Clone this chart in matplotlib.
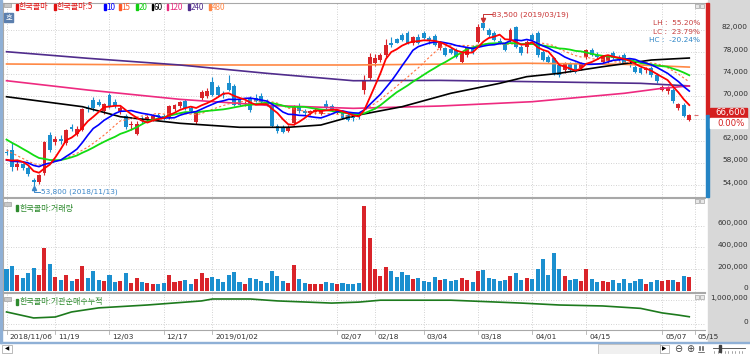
import numpy as np
import pandas as pd
import matplotlib
matplotlib.use("Agg")
import matplotlib.pyplot as plt
from matplotlib.patches import Rectangle
from matplotlib.transforms import ScaledTranslation
from matplotlib import font_manager

plt.rcParams['font.family'] = ['Noto Sans CJK KR', 'DejaVu Sans']

# trading days shown (KRX holidays removed)
holidays = ['2018-12-25', '2018-12-31', '2019-01-01', '2019-02-04', '2019-02-05',
            '2019-02-06', '2019-03-01', '2019-05-01', '2019-05-06']
dates = pd.bdate_range('2018-11-06', '2019-05-14', freq='C', holidays=holidays)

# daily prices, thousand won
opens = [60.0, 60.4, 57.3, 57.8, 57.0, 55.0, 54.6, 56.1, 63.0, 61.8,
         62.3, 61.6, 64.4, 63.3, 64.0, 68.0, 69.4, 69.0, 67.4, 70.2,
         69.0, 67.3, 66.4, 64.8, 63.3, 66.0, 65.7, 66.0, 66.6, 66.5,
         66.3, 67.8, 68.3, 69.2, 67.9, 65.3, 69.7, 70.0, 72.6, 71.7,
         70.5, 72.4, 71.8, 69.4, 68.6, 69.6, 69.8, 70.0, 69.0, 68.2,
         64.6, 64.5, 63.8, 65.2, 68.3, 67.3, 67.1, 67.2, 66.9, 68.6,
         68.2, 67.2, 67.0, 66.6, 66.4, 66.9, 71.2, 73.3, 76.0, 76.6,
         77.5, 79.6, 80.3, 81.1, 81.4, 79.6, 80.8, 81.4, 80.5, 81.0,
         78.7, 78.7, 78.6, 78.3, 76.3, 77.5, 78.7, 79.9, 83.2, 82.0,
         81.4, 80.0, 79.6, 80.2, 82.5, 79.0, 79.0, 81.1, 81.4, 78.0,
         77.2, 76.9, 75.6, 74.8, 75.9, 75.9, 75.1, 77.2, 78.4, 77.5,
         76.3, 76.4, 77.8, 77.0, 77.5, 76.0, 75.4, 75.1, 74.8, 75.2,
         73.9, 71.2, 70.9, 71.2, 67.9, 68.5, 65.8]
highs = [60.5, 61.8, 58.4, 58.0, 57.4, 55.3, 56.0, 62.0, 63.5, 62.8,
         63.0, 64.2, 65.0, 64.6, 68.0, 68.5, 69.9, 69.5, 68.8, 70.7,
         69.5, 68.3, 66.8, 65.5, 65.5, 66.5, 66.6, 66.8, 67.0, 66.9,
         68.5, 68.6, 69.2, 69.6, 68.3, 67.2, 71.2, 71.5, 73.5, 72.0,
         71.0, 73.8, 72.2, 69.8, 69.2, 70.0, 70.5, 70.6, 69.6, 68.6,
         65.0, 64.8, 64.8, 68.4, 68.8, 67.8, 67.6, 67.9, 67.7, 69.4,
         68.6, 67.8, 67.4, 67.0, 66.8, 67.2, 73.8, 77.8, 77.6, 77.8,
         80.3, 80.8, 80.6, 81.5, 81.8, 81.0, 81.2, 81.9, 81.0, 81.3,
         79.8, 79.0, 79.0, 78.8, 78.0, 79.2, 79.3, 83.0, 83.5, 82.4,
         81.8, 80.5, 79.8, 82.3, 82.8, 79.3, 80.2, 81.5, 81.8, 78.3,
         77.5, 77.2, 76.0, 76.2, 76.2, 76.3, 76.2, 78.6, 78.8, 78.0,
         77.4, 77.4, 78.2, 77.5, 77.8, 76.4, 75.7, 75.4, 75.3, 75.5,
         74.2, 72.0, 71.8, 71.5, 68.8, 68.8, 66.8]
lows = [59.4, 56.6, 56.8, 56.8, 55.6, 53.8, 54.2, 55.8, 60.0, 61.2,
        61.5, 61.2, 63.7, 62.8, 63.7, 67.2, 67.4, 68.2, 66.8, 68.0,
        68.0, 66.8, 64.2, 64.0, 63.0, 65.2, 65.3, 65.6, 65.8, 65.7,
        66.0, 67.4, 68.0, 67.6, 67.0, 65.0, 69.4, 69.8, 70.0, 70.0,
        69.8, 71.0, 68.3, 68.3, 68.2, 67.2, 69.0, 68.8, 68.2, 64.4,
        63.4, 63.4, 63.5, 64.9, 67.0, 66.7, 66.6, 66.9, 66.6, 67.7,
        67.3, 66.9, 66.0, 65.5, 65.6, 66.0, 70.4, 73.0, 75.5, 76.2,
        77.2, 79.0, 79.6, 80.0, 79.4, 79.3, 79.4, 80.3, 79.5, 79.2,
        78.4, 77.3, 77.6, 77.0, 76.0, 77.2, 77.7, 79.6, 82.0, 80.8,
        80.0, 79.4, 78.2, 79.8, 78.7, 77.5, 77.8, 80.0, 77.2, 76.4,
        76.0, 73.8, 73.6, 74.3, 74.5, 74.2, 74.8, 76.8, 77.3, 76.8,
        76.0, 76.1, 76.7, 76.4, 75.8, 75.3, 74.3, 74.0, 74.2, 73.6,
        72.4, 70.9, 70.5, 68.8, 67.6, 66.2, 65.5]
closes = [59.8, 57.3, 57.8, 57.0, 56.0, 54.5, 55.8, 61.8, 60.4, 62.4,
          62.0, 63.9, 64.1, 64.1, 67.8, 67.7, 67.9, 68.4, 68.6, 68.3,
          68.3, 68.0, 64.5, 65.0, 65.1, 65.5, 66.3, 66.4, 66.2, 66.0,
          68.2, 68.4, 69.0, 67.9, 67.3, 67.0, 70.8, 70.9, 70.3, 70.3,
          70.2, 71.2, 68.5, 68.5, 68.8, 67.5, 69.2, 69.0, 68.5, 64.6,
          63.7, 63.6, 64.4, 68.1, 67.3, 67.0, 67.4, 67.6, 67.5, 67.9,
          67.5, 67.5, 66.1, 65.8, 66.1, 66.4, 73.0, 77.2, 76.9, 77.4,
          79.3, 79.3, 79.7, 80.2, 79.6, 80.8, 79.6, 80.5, 80.0, 79.3,
          79.6, 77.5, 77.9, 77.2, 77.8, 79.0, 77.8, 82.6, 82.3, 81.1,
          80.2, 79.6, 78.4, 82.0, 79.0, 77.8, 79.9, 80.2, 77.5, 76.6,
          76.3, 74.2, 73.9, 75.9, 74.8, 74.5, 76.0, 78.3, 77.5, 77.2,
          77.2, 77.1, 76.9, 76.6, 76.0, 75.6, 74.5, 74.2, 75.0, 73.9,
          72.7, 71.7, 71.5, 69.1, 68.6, 66.4, 66.6]
# closes before the window, only used to start the short averages
pre_close = [69.0, 68.0, 68.5, 67.0, 66.5, 66.0, 65.0, 64.5, 63.0, 61.5,
             59.5, 58.5, 57.5, 58.0, 59.0, 58.0, 57.5, 58.5, 59.0]

# volume, thousand shares
volume = [200, 230, 150, 120, 160, 210, 150, 390, 250, 130,
          100, 150, 90, 110, 230, 120, 180, 100, 90, 150,
          80, 90, 160, 70, 120, 80, 70, 60, 60, 70,
          150, 80, 90, 100, 60, 110, 160, 120, 130, 110,
          80, 150, 170, 80, 60, 120, 110, 90, 70, 180,
          140, 90, 70, 240, 110, 70, 60, 60, 60, 80,
          70, 60, 70, 60, 60, 70, 780, 490, 200, 140,
          220, 180, 130, 170, 150, 110, 120, 90, 80, 130,
          100, 110, 90, 100, 120, 100, 80, 180, 190, 120,
          110, 90, 100, 140, 160, 100, 120, 110, 200, 290,
          150, 350, 200, 140, 100, 110, 90, 200, 110, 80,
          90, 80, 100, 70, 110, 70, 90, 110, 60, 80,
          100, 90, 100, 100, 80, 140, 130]

# long moving averages (day index, thousand won)
ma60_day = [0, 14, 21, 32, 43, 52, 58, 64, 73, 82, 91, 96, 102, 110, 119, 126]
ma60_val = [69.95, 68.15, 66.34, 65.15, 64.43, 64.43, 64.84, 66.47, 68.15, 70.57,
            72.37, 73.57, 74.18, 75.37, 76.58, 76.94]
ma120_day = [0, 15, 32, 48, 64, 80, 97, 114, 121, 126]
ma120_val = [72.84, 71.16, 69.48, 68.4, 67.85, 68.27, 69.05, 70.57, 71.47, 71.9]
ma240_day = [0, 15, 32, 48, 64, 80, 97, 117, 126]
ma240_val = [78.08, 76.89, 75.68, 74.18, 72.84, 72.9, 72.67, 72.37, 71.9]
ma480_day = [0, 32, 64, 96, 114, 126]
ma480_val = [75.86, 75.68, 75.68, 75.99, 75.8, 75.3]

# institution net buying, cumulative (million shares)
inst_day = [0, 5, 9, 12, 17, 26, 36, 38, 45, 50, 60, 65, 69, 82, 95, 102, 110, 117, 121, 124, 126]
inst_val = [0.51, 0.26, 0.3, 0.51, 0.68, 0.8, 0.97, 1.05, 1.05, 0.97, 0.88, 0.92,
            1.0, 1.0, 0.88, 0.8, 0.76, 0.66, 0.47, 0.38, 0.31]

tick_dates = ['2018-11-06', '2018-11-19', '2018-12-03', '2018-12-17', '2019-01-02',
              '2019-02-07', '2019-02-18', '2019-03-04', '2019-03-18', '2019-04-01',
              '2019-04-15', '2019-05-07', '2019-05-15']
tick_labels = ['2018/11/06', '11/19', '12/03', '12/17', '2019/01/02', '02/07', '02/18',
               '03/04', '03/18', '04/01', '04/15', '05/07', '05/15']

legend_labels = ['한국콜마', '한국콜마:5', '10', '15', '20', '60', '120', '240', '480']
legend_colors = ['#e01010', '#e01010', '#0000ff', '#ff5a28', '#10d010', '#000000',
                 '#e8287c', '#502c8c', '#ff8848']
legend_px = [16, 54.3, 104, 119.3, 136, 151.7, 166.7, 188.3, 209.3]

RED = '#d9242a'
BLUE = '#1b8fcf'
GRID = '#c4c4c4'
W, H = 750, 354

names = {f.name for f in font_manager.fontManager.ttflist}
if 'Liberation Sans Narrow' in names:
    NUM_FONT, NUM_SIZE = 'Liberation Sans Narrow', 7.0
else:
    NUM_FONT, NUM_SIZE = 'DejaVu Sans', 5.3

fig = plt.figure(figsize=(W / 100, H / 100), dpi=100)
fig.patch.set_facecolor('white')


def px_axes(x0, y0, x1, y1):
    return fig.add_axes([x0 / W, 1 - y1 / H, (x1 - x0) / W, (y1 - y0) / H])


def fig_rect(x0, y0, x1, y1, **kw):
    fig.patches.append(Rectangle((x0 / W, 1 - y1 / H), (x1 - x0) / W, (y1 - y0) / H,
                                 transform=fig.transFigure, **kw))


def fig_line(xs, ys, **kw):
    fig.lines.append(plt.Line2D([v / W for v in xs], [1 - v / H for v in ys],
                                transform=fig.transFigure, **kw))


def fig_text(x, y, s, **kw):
    fig.text(x / W, 1 - y / H, s, **kw)


def style_panel(ax):
    ax.set_xlim(-0.65, 128.9)
    ax.set_xticks([])
    ax.set_yticks([])
    for s in ax.spines.values():
        s.set_color('#a8a8a8')
        s.set_linewidth(0.8)
    ax.spines['right'].set_visible(False)


def right_labels(ax, values, texts):
    tr = ax.get_yaxis_transform() + ScaledTranslation(0, 2.5 / 100, fig.dpi_scale_trans)
    for v, t in zip(values, texts):
        ax.text(745 / 702, v, t, transform=tr, ha='right', va='center', clip_on=False,
                fontsize=NUM_SIZE, family=NUM_FONT, color='#303030')


# window background pieces
fig_rect(708, 0, 750, 342, color='#d8d8d8', zorder=-10)
fig_rect(0, 0, 1.5, 343, color='#8fb0d6', zorder=-10)
fig_rect(0, 342, 750, 343.2, color='#8fb0d6', zorder=-10)

x = np.arange(len(dates))
o = np.array(opens) * 1000
h = np.array(highs) * 1000
l = np.array(lows) * 1000
c = np.array(closes) * 1000
up = c >= o
col = np.where(up, RED, BLUE)

all_close = pd.Series(pre_close + closes) * 1000
n_pre = len(pre_close)

# ---------------- price panel
ax1 = px_axes(3, 3, 705, 197)
style_panel(ax1)
ax1.set_ylim(51840, 86876)
price_ticks = list(range(54000, 86000, 4000))
for v in price_ticks:
    ax1.axhline(v, color=GRID, lw=0.6, ls=(0, (1, 2)), zorder=1)

tick_idx = [dates.get_loc(pd.Timestamp(d)) if pd.Timestamp(d) in dates else len(dates)
            for d in tick_dates]

ax1.vlines(x, l, h, colors=col, lw=0.8, zorder=3)
body_low = np.minimum(o, c)
body_h = np.maximum(np.abs(c - o), 120)
ax1.bar(x, body_h, bottom=body_low, width=0.72, color=col, lw=0, zorder=3)

for n, color, lw, ls in [(15, '#ff7040', 0.8, (0, (2, 2))), (20, '#12dc12', 1.3, '-'),
                         (10, '#0000ff', 1.2, '-'), (5, '#ff0000', 1.3, '-')]:
    ma = all_close.rolling(n).mean().values[n_pre:]
    ax1.plot(x, ma, color=color, lw=lw, ls=ls, zorder=5)

for days, vals, color in [(ma480_day, ma480_val, '#ff8844'), (ma240_day, ma240_val, '#502c8c'),
                          (ma120_day, ma120_val, '#ee2a80'), (ma60_day, ma60_val, '#000000')]:
    ax1.plot(days, np.array(vals) * 1000, color=color, lw=1.2, zorder=4)

# the current price box hides the label next to it
shown = [v for v in price_ticks if abs(v - c[-1]) > 1500]
right_labels(ax1, shown, [f'{v:,}' for v in shown])

# max / min notes
hi_i = int(np.argmax(h))
lo_i = int(np.argmin(l))
ax1.plot([hi_i, hi_i, hi_i + 1.5], [h[hi_i] + 150, h[hi_i] + 1300, h[hi_i] + 1300],
         color='#c83030', lw=0.7, zorder=6)
ax1.plot(hi_i, h[hi_i] + 300, marker='v', ms=3, color='#c83030', zorder=6)
ax1.text(hi_i + 1.6, h[hi_i] + 1300, f'{h[hi_i]:,.0f} ({dates[hi_i]:%Y/%m/%d})',
         color='#c83030', fontsize=NUM_SIZE, family=NUM_FONT, va='center')
ax1.plot([lo_i, lo_i, lo_i + 1.2], [l[lo_i] - 150, l[lo_i] - 1000, l[lo_i] - 1000],
         color='#3a86c8', lw=0.7, zorder=6)
ax1.plot(lo_i, l[lo_i] - 300, marker='^', ms=3, color='#3a86c8', zorder=6)
ax1.text(lo_i + 1.3, l[lo_i] - 1000, f'{l[lo_i]:,.0f} ({dates[lo_i]:%Y/%m/%d})',
         color='#3a86c8', fontsize=NUM_SIZE, family=NUM_FONT, va='center')

lh = (h.max() / l.min() - 1) * 100
lc = (c[-1] / l.min() - 1) * 100
hc = (c[-1] / h.max() - 1) * 100
for yy, lab, val, color in [(23.3, 'LH', lh, '#c84040'), (31.7, 'LC', lc, '#c84040'),
                            (40.0, 'HC', hc, '#2f86c6')]:
    fig_text(700, yy, f'{lab} :  {val:.2f}%', ha='right', va='center', color=color,
             fontsize=NUM_SIZE, family=NUM_FONT)

# current price dash and side bar
ax1.hlines(c[-1], len(dates) - 0.2, len(dates) + 0.6, color='#e07070', lw=0.8)
yp = ax1.transData.transform((0, c[-1]))[1]
ycur = H - yp
fig_rect(706, 3, 708.5, ycur, color='#d42020', zorder=2)
fig_rect(706, ycur, 708.5, 197, color='#2584c4', zorder=2)
fig_rect(710, ycur - 7, 747, ycur + 2.5, color='#d42020', zorder=2)
fig_text(745, ycur - 2.6, f'{c[-1]:,.0f}', ha='right', va='center', color='white',
         fontsize=6.2, family=NUM_FONT)
fig_rect(710, ycur + 3, 747, ycur + 13, color='white', zorder=2)
fig_text(745, ycur + 8.6, '0.00%', ha='right', va='center', color='#d42020',
         fontsize=6.2, family=NUM_FONT)

# legend strip
fig_rect(3.5, 3.3, 10.5, 7.3, facecolor='#c8c8c8', edgecolor='#909090', lw=0.4, zorder=3)
fig_rect(4, 12.7, 13.3, 21.7, color='#5b7fae', zorder=3)
fig_text(8.6, 17.2, '호', ha='center', va='center', color='white', fontsize=5.2)
for lab, color, lx in zip(legend_labels, legend_colors, legend_px):
    fig_rect(lx, 4, lx + 1.6, 10, color=color, zorder=3)
    fig_text(lx + 2.3, 7, lab, color=color, fontsize=5.8, va='center')

# ---------------- volume panel
ax2 = px_axes(3, 198, 705, 292)
style_panel(ax2)
ax2.set_ylim(-11000, 855000)
vol_ticks = [0, 200000, 400000, 600000]
for v in vol_ticks[1:]:
    ax2.axhline(v, color=GRID, lw=0.6, ls=(0, (1, 2)), zorder=1)
ax2.bar(x, np.array(volume) * 1000, width=0.75, color=col, lw=0, zorder=3)
right_labels(ax2, vol_ticks, [f'{v:,}' for v in vol_ticks])
fig_rect(3.5, 202, 10.5, 206, facecolor='#c8c8c8', edgecolor='#909090', lw=0.4, zorder=3)
fig_rect(16, 205, 17.6, 211, color='#2e8b2e', zorder=3)
fig_text(19.5, 208, '한국콜마:거래량', color='#2e8b2e', fontsize=5.8, va='center')

# ---------------- institution cumulative panel
ax3 = px_axes(3, 293, 705, 330)
style_panel(ax3)
ax3.set_ylim(-0.242, 1.3)
for v in [0, 1.0]:
    ax3.axhline(v, color=GRID, lw=0.6, ls=(0, (1, 2)), zorder=1)
ax3.plot(inst_day, inst_val, color='#1d7a1d', lw=1.2, zorder=3)
right_labels(ax3, [0, 1.0], ['0', '1,000,000'])
fig_rect(3.5, 297, 10.5, 301, facecolor='#c8c8c8', edgecolor='#909090', lw=0.4, zorder=3)
fig_rect(16, 299, 17.6, 305, color='#2e8b2e', zorder=3)
fig_text(19.5, 301.5, '한국콜마:기관순매수누적', color='#2e8b2e', fontsize=5.8, va='center')

# panel corner buttons
for yy in [4, 199, 295]:
    fig_rect(695, yy, 699, yy + 4, facecolor='#e8e8e8', edgecolor='#909090', lw=0.4, zorder=4)
    fig_rect(700, yy, 704, yy + 4, facecolor='#e8e8e8', edgecolor='#909090', lw=0.4, zorder=4)

# date gridlines and labels
for ax in (ax1, ax2, ax3):
    for t in tick_idx:
        ax.axvline(t, color=GRID, lw=0.6, ls=(0, (1, 2)), zorder=1)
tr = ax3.get_xaxis_transform() + ScaledTranslation(3 / 100, 0, fig.dpi_scale_trans)
for t, lab in zip(tick_idx, tick_labels):
    ax3.text(t, -7 / 37, lab, transform=tr, ha='left', va='center', clip_on=False,
             fontsize=NUM_SIZE, family=NUM_FONT, color='#303030')
    ax3.plot([t, t], [-0.02, -0.12], transform=ax3.get_xaxis_transform(),
             color='#b0b0b0', lw=0.6, clip_on=False)

# bottom scroll strip
fig_rect(2, 345, 12, 353, facecolor='white', edgecolor='#a0a0a0', lw=0.5, zorder=3)
fig_text(7, 349, '◀', ha='center', va='center', fontsize=4, color='black', family='DejaVu Sans')
fig_rect(598, 344, 660, 354, facecolor='#f0f0f0', edgecolor='#b0b0b0', lw=0.5, zorder=3)
fig_rect(660, 345, 669, 353, facecolor='white', edgecolor='#a0a0a0', lw=0.5, zorder=3)
fig_text(664.5, 349, '▶', ha='center', va='center', fontsize=4, color='black', family='DejaVu Sans')
fig_text(678, 349, '⊖', ha='center', va='center', fontsize=7, color='#404040', family='DejaVu Sans')
fig_text(690, 349, '⊕', ha='center', va='center', fontsize=7, color='#404040', family='DejaVu Sans')
for k in range(4):
    fig_line([698.5 + 1.6 * k] * 2, [345.5, 349.5], color='#404040', lw=0.5)
fig_line([698, 704], [352, 352], color='#404040', lw=0.5)
fig_line([713, 745], [348, 348], color='#404040', lw=0.6)
fig_rect(719, 345, 720.5, 352, color='#404040', zorder=3)
for k in range(9):
    fig_line([714 + 3.5 * k] * 2, [351, 353], color='#606060', lw=0.4)

fig.savefig('out.png', dpi=100)
